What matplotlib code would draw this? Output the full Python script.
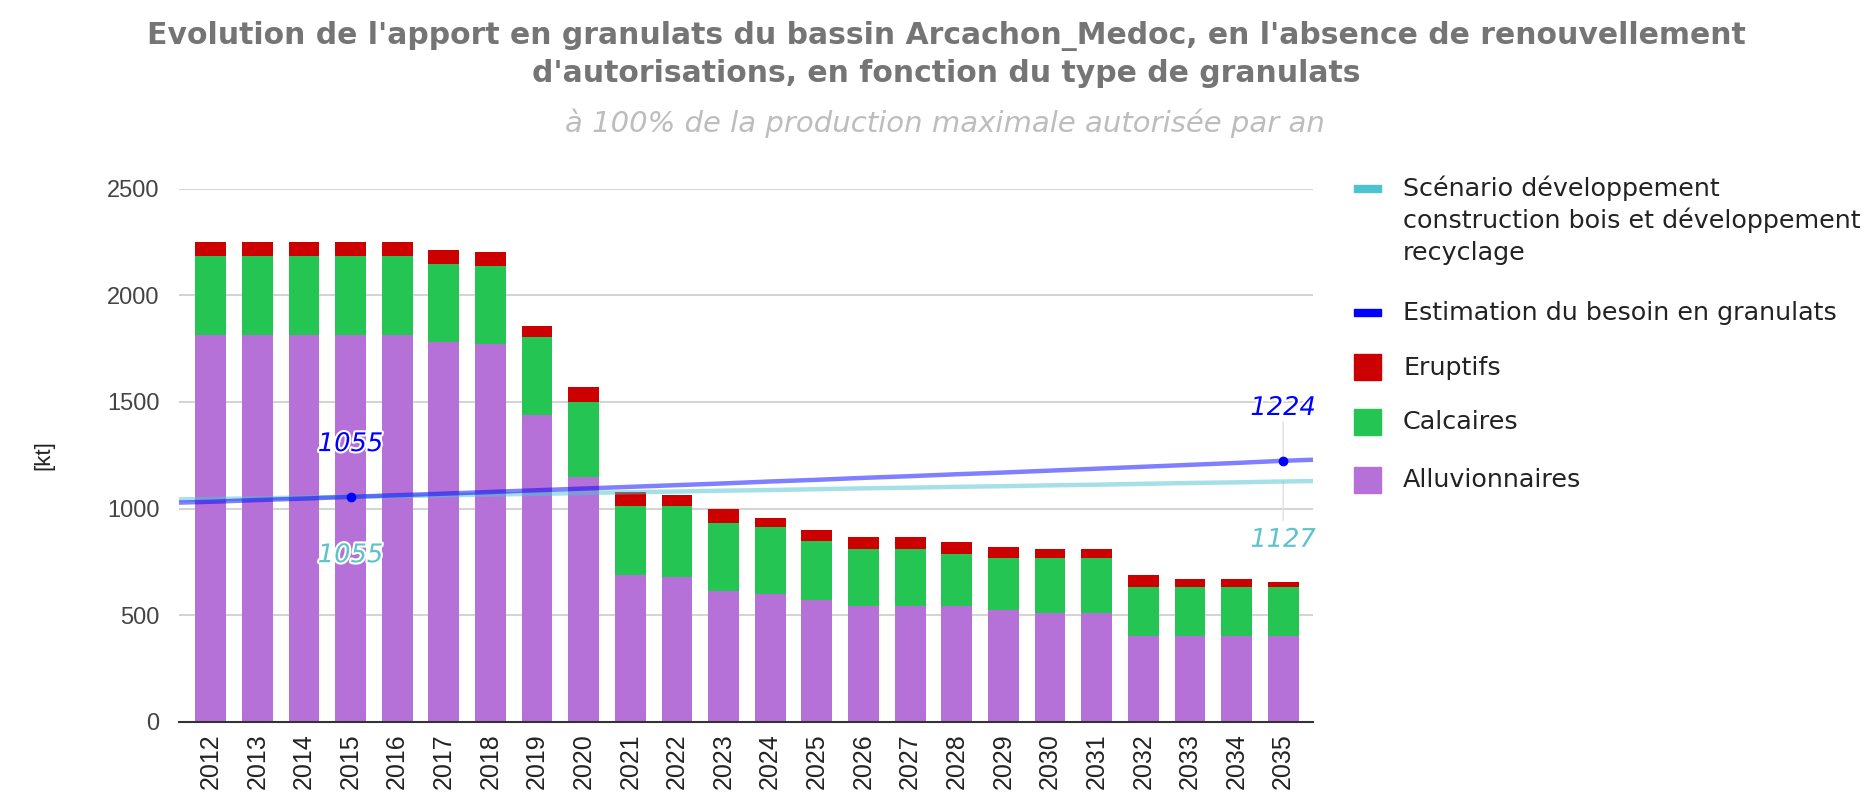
import numpy as np
import matplotlib.pyplot as plt
import matplotlib.patheffects as pe
from matplotlib.patches import Rectangle

plt.rcParams['font.family'] = ['Liberation Sans', 'DejaVu Sans']

annees = [str(a) for a in range(2012, 2036)]
alluvionnaires = [1815, 1815, 1815, 1815, 1815, 1780, 1770, 1440, 1150, 690, 680, 615,
                  600, 570, 545, 545, 545, 523, 512, 512, 403, 403, 403, 403]
calcaires = [368, 368, 368, 368, 368, 367, 366, 363, 351, 321, 331, 319,
             312, 276, 266, 266, 244, 244, 255, 255, 231, 231, 231, 231]
eruptifs = [67, 67, 67, 67, 67, 67, 67, 55, 68, 68, 55, 66,
            44, 55, 54, 54, 54, 54, 44, 44, 55, 35, 35, 22]
besoin = [1032, 1040, 1047, 1055, 1063, 1070, 1078, 1086, 1094, 1102, 1110, 1118,
          1127, 1135, 1144, 1152, 1161, 1169, 1178, 1187, 1196, 1205, 1214, 1224]
besoin_bords = [1028, 1229]
scenario = [1045, 1048, 1052, 1055, 1059, 1062, 1066, 1069, 1073, 1077, 1080, 1084,
            1087, 1091, 1095, 1098, 1102, 1105, 1109, 1112, 1116, 1120, 1123, 1127]
scenario_bords = [1043, 1129]
annotes = [3, 23]  # indices 2015 et 2035

legende = [["Scénario développement", "construction bois et développement", "recyclage"],
           ["Estimation du besoin en granulats"], ["Eruptifs"], ["Calcaires"], ["Alluvionnaires"]]

c_alluv = '#b571d8'
c_calc = '#24c552'
c_erup = '#cc0000'
c_bleu = '#0000ff'
c_cyan = '#4cc3cf'
large = 'DejaVu Sans'

fig = plt.figure(figsize=(18.71, 8.01), dpi=100)
ax = fig.add_axes([179/1871, 1-722/801, (1313-179)/1871, (722-188.5)/801])

x = np.arange(len(annees))
w = 0.66
alluv = np.array(alluvionnaires)
calc = np.array(calcaires)
ax.bar(x, alluv, w, color=c_alluv, zorder=2)
ax.bar(x, calc, w, bottom=alluv, color=c_calc, zorder=2)
ax.bar(x, eruptifs, w, bottom=alluv + calc, color=c_erup, zorder=2)

xmin, xmax = -0.68, len(annees) - 1 + 0.64
xl = np.concatenate([[xmin], x, [xmax]])
ax.plot(xl, [scenario_bords[0]] + scenario + [scenario_bords[1]], color=c_cyan,
        lw=3.2, alpha=0.5, zorder=3, solid_capstyle='butt')
ax.plot(xl, [besoin_bords[0]] + besoin + [besoin_bords[1]], color=c_bleu,
        lw=3.2, alpha=0.5, zorder=4, solid_capstyle='butt')
ax.plot(x[annotes], np.array(besoin)[annotes], 'o', color=c_bleu, ms=6, zorder=5)

halo = [pe.withStroke(linewidth=3, foreground='white')]
for i in annotes:
    # tiges des annotations
    ax.annotate('', xy=(x[i], besoin[i]), xytext=(0, 28), textcoords='offset points',
                arrowprops=dict(arrowstyle='-', color='#e0e0e0', lw=1, shrinkA=0, shrinkB=0),
                zorder=1)
    ax.annotate('', xy=(x[i], scenario[i]), xytext=(0, -28), textcoords='offset points',
                arrowprops=dict(arrowstyle='-', color='#e0e0e0', lw=1, shrinkA=0, shrinkB=0),
                zorder=1)
    ax.annotate(str(besoin[i]), xy=(x[i], besoin[i]), xytext=(0, 38), textcoords='offset points',
                ha='center', va='center', fontsize=18.5, style='italic', color=c_bleu,
                family=large, path_effects=halo, zorder=6)
    ax.annotate(str(scenario[i]), xy=(x[i], scenario[i]), xytext=(0, -42), textcoords='offset points',
                ha='center', va='center', fontsize=18.5, style='italic', color='#5cc2cc',
                family=large, path_effects=halo, zorder=6)

ax.set_xlim(xmin, xmax)
ax.set_ylim(0, 2500)
ax.set_yticks([0, 500, 1000, 1500, 2000, 2500])
ax.set_xticks(x)
ax.set_xticklabels(annees, rotation=90, fontsize=18, color='#222222')
ax.tick_params(axis='y', labelsize=17, labelcolor='#444444', length=0, pad=14)
ax.tick_params(axis='x', length=0, pad=8)
ax.grid(axis='y', color='#cccccc', lw=1.2, zorder=0)
ax.set_axisbelow(True)
for s in ['top', 'right', 'left']:
    ax.spines[s].set_visible(False)
ax.spines['bottom'].set_color('#333333')
ax.spines['bottom'].set_linewidth(1.5)
ax.spines['bottom'].set_zorder(6)
ax.set_ylabel('[kt]', fontsize=16, color='#222222', labelpad=38)

fig.text(946/1871, 1-36/801, "Evolution de l'apport en granulats du bassin Arcachon_Medoc, en l'absence de renouvellement",
         ha='center', va='center', fontsize=21.5, fontweight='bold', color='#757575', family=large)
fig.text(946/1871, 1-74/801, "d'autorisations, en fonction du type de granulats",
         ha='center', va='center', fontsize=21.5, fontweight='bold', color='#757575', family=large)
fig.text(945/1871, 1-123/801, "à 100% de la production maximale autorisée par an",
         ha='center', va='center', fontsize=21, style='italic', color='#bdbdbd', family=large)

# légende manuelle
leg_y = [188.5, 312.6, 367.5, 422.3, 479.6]
leg_c = [c_cyan, c_bleu, c_erup, c_calc, c_alluv]
for k, (lignes, yy, cc) in enumerate(zip(legende, leg_y, leg_c)):
    if k < 2:
        fig.patches.append(Rectangle((1354/1871, 1-(yy+3.5)/801), 27/1871, 7/801,
                                     transform=fig.transFigure, color=cc))
    else:
        fig.patches.append(Rectangle((1354/1871, 1-(yy+13)/801), 27/1871, 26/801,
                                     transform=fig.transFigure, color=cc))
    for j, lab in enumerate(lignes):
        fig.text(1403/1871, 1-(yy + 32.2*j)/801, lab, ha='left', va='center',
                 fontsize=18.3, color='#222222', family=large)

fig.savefig('out.png', dpi=100)
